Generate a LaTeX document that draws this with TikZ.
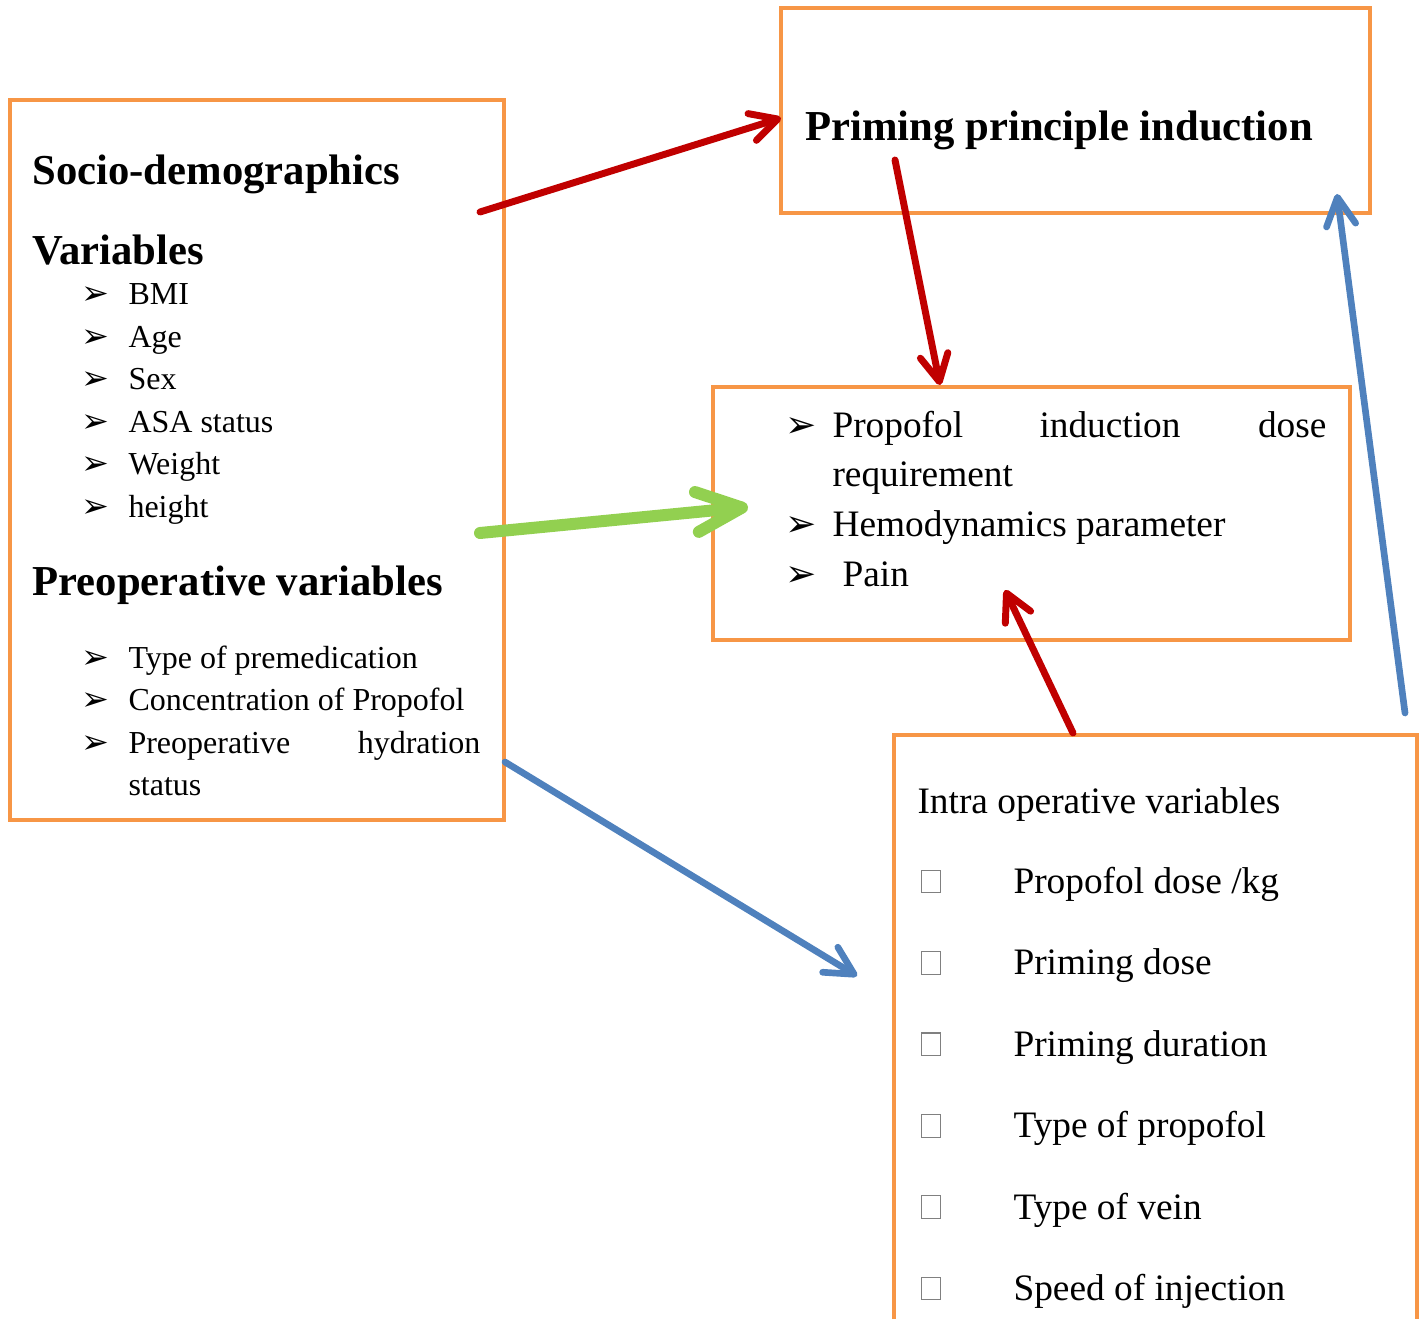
\documentclass[tikz,border=0pt]{standalone}
\usepackage{fontspec}
\setmainfont{Liberation Serif}
\newfontfamily\dingfont{DejaVu Sans}
\usetikzlibrary{arrows.meta, fit, positioning}
\definecolor{boxorange}{HTML}{F79646}
\definecolor{arrowred}{HTML}{C00000}
\definecolor{arrowgreen}{HTML}{92D050}
\definecolor{arrowblue}{HTML}{4F81BD}
\tikzset{
  box/.style={draw=boxorange, line width=1.5pt, inner sep=0pt},
  head/.style={anchor=base west, inner sep=0pt, font=\fontsize{16}{19}\selectfont\bfseries},
  item/.style={anchor=base west, inner sep=0pt, font=\fontsize{12}{14}\selectfont},
  bigitem/.style={anchor=base west, inner sep=0pt, font=\fontsize{14}{17}\selectfont},
  tick/.style={anchor=base west, inner sep=0pt, font=\dingfont\fontsize{12.5}{14}\selectfont},
  bigtick/.style={tick, font=\dingfont\fontsize{14}{16}\selectfont},
  chk/.style={draw=gray, line width=0.4pt, anchor=south west, inner sep=0pt,
    minimum width=7pt, minimum height=8.5pt},
  redarrow/.style={arrowred, line width=2.6pt, line cap=round,
    -{Straight Barb[length=10pt, width=10.5pt, round]}},
  bluearrow/.style={arrowblue, line width=2.5pt, line cap=round,
    -{Straight Barb[length=10.5pt, width=11pt, round]}},
  greenarrow/.style={arrowgreen, line width=4.5pt, line cap=round,
    -{Straight Barb[length=17pt, width=15pt, round]}}
}

\begin{document}
\begin{tikzpicture}[x=0.375pt, y=-0.375pt]
  \useasboundingbox (0,0) rectangle (1421,1318);

  \node[box, fit={(10,100) (504,820)}] (socio) {};
  \node[box, fit={(781,8) (1370,213)}] (prime) {};
  \node[box, fit={(713,387) (1350,640)}] (resp) {};
  \node[box, fit={(894,735) (1417,1345)}] (intra) {};

  \node[head] (sociohead) at (32,185) {Socio-demographics};
  \node[head] (varhead) at (32,265) {Variables};
  \foreach \txt [count=\i] in {BMI, Age, Sex, ASA status, Weight, height} {
    \node[tick] (sb\i) at (81,{262.6+42.4*\i}) {➢};
    \node[item] (si\i) at (128,{262.6+42.4*\i}) {\txt};
  }
  \node[head] (prehead) at (32,595) {Preoperative variables};
  \foreach \txt [count=\i] in {Type of premedication, Concentration of Propofol, Preoperative} {
    \node[tick] (pb\i) at (81,{625.5+42.5*\i}) {➢};
    \node[item] (pi\i) at (128,{625.5+42.5*\i}) {\txt};
  }
  \node[item, anchor=base east] (hydr) at (481,753) {hydration};
  \node[item] (stat) at (128,795) {status};

  \node[head] (primehead) at (805,141) {Priming principle induction};

  \node[bigtick] (rb1) at (785,437) {➢};
  \node[bigitem] (ri1) at (832,437) {Propofol};
  \node[bigitem, anchor=base] (ri1b) at (1110,437) {induction};
  \node[bigitem, anchor=base east] (ri1c) at (1327,437) {dose};
  \node[bigitem] (ri1d) at (832,486) {requirement};
  \node[bigtick] (rb2) at (785,536) {➢};
  \node[bigitem] (ri2) at (832,536) {Hemodynamics parameter};
  \node[bigtick] (rb3) at (785,586) {➢};
  \node[bigitem] (ri3) at (842,586) {Pain};

  \node[bigitem] (intrahead) at (917,813) {Intra operative variables};
  \foreach \txt [count=\i] in {Propofol dose /kg, Priming dose, Priming duration,
      Type of propofol, Type of vein, Speed of injection} {
    \node[chk] (ib\i) at (921,{812+81.4*\i}) {};
    \node[bigitem] (ii\i) at (1013,{812+81.4*\i}) {\txt};
  }

  \coordinate (a1s) at (480,212);
  \coordinate (a1e) at (781,118);
  \coordinate (a2s) at (895,160);
  \coordinate (a2e) at (940,385);
  \coordinate (a3s) at (480,533);
  \coordinate (a3e) at (748,507);
  \coordinate (a4s) at (505,762);
  \coordinate (a4e) at (857,976);
  \coordinate (a5s) at (1073,733);
  \coordinate (a5e) at (1005,590);
  \coordinate (a6s) at (1405,713);
  \coordinate (a6e) at (1337,194);

  \draw[redarrow] (a1s) -- (a1e);
  \draw[redarrow] (a2s) -- (a2e);
  \draw[greenarrow] (a3s) -- (a3e);
  \draw[bluearrow] (a4s) -- (a4e);
  \draw[redarrow] (a5s) -- (a5e);
  \draw[bluearrow] (a6s) -- (a6e);
\end{tikzpicture}
\end{document}
